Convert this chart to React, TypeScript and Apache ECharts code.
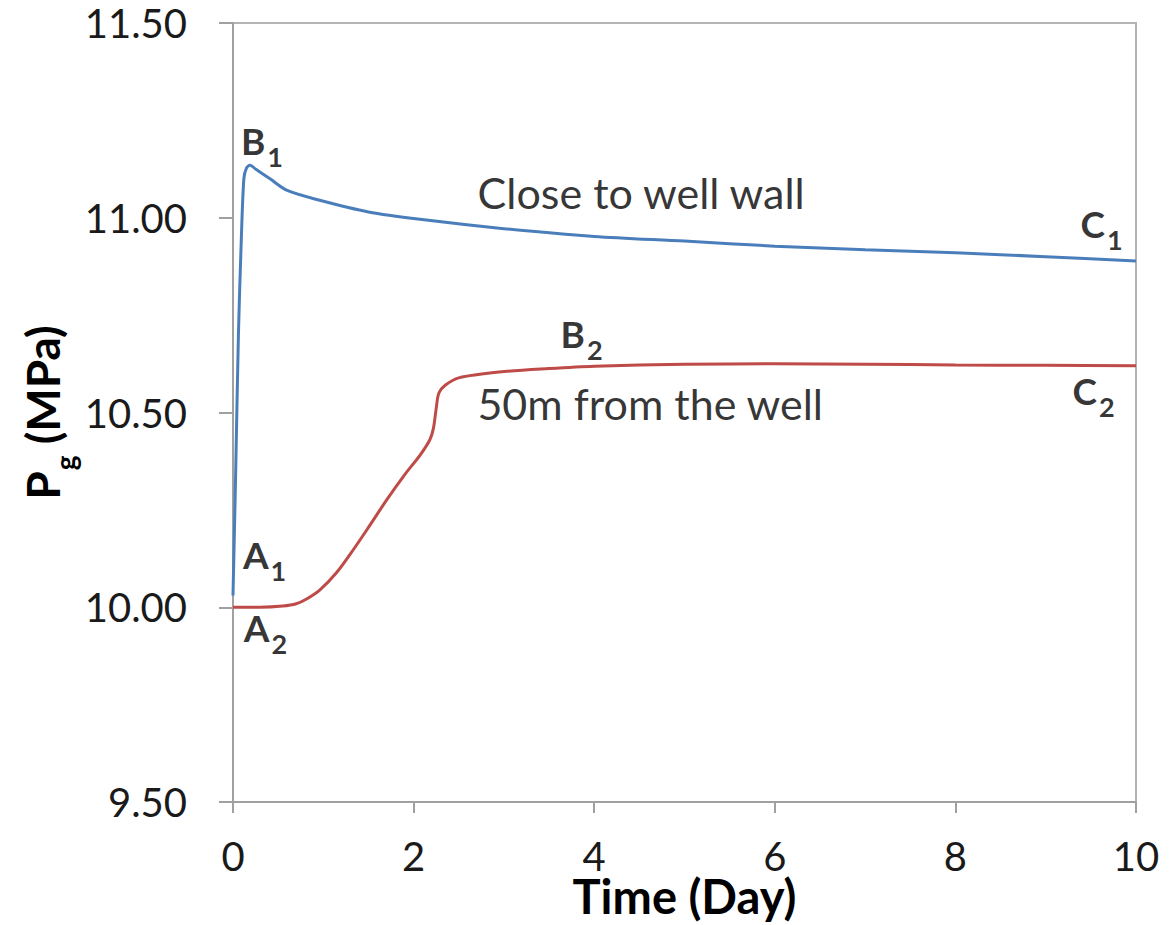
import React, { useEffect, useRef } from "react";
import * as echarts from "echarts";

// Close to well wall (blue)
const blueDays = [0, 0.03, 0.06, 0.09, 0.12, 0.15, 0.19, 0.25, 0.41, 0.6, 0.96, 1.5, 2.07, 3, 4, 5, 6, 7, 8, 9, 10];
const blueP = [10.03, 10.35, 10.7, 10.93, 11.1, 11.128, 11.135, 11.125, 11.1, 11.07, 11.045, 11.015, 10.996, 10.972, 10.952, 10.94, 10.927, 10.918, 10.91, 10.9, 10.889];

// 50m from the well (red)
const redDays = [0, 0.3, 0.55, 0.7, 0.82, 0.96, 1.15, 1.33, 1.5, 1.7, 1.9, 2.07, 2.18, 2.22, 2.25, 2.28, 2.35, 2.5, 2.95, 3.5, 4, 5, 6, 7, 8, 9, 10];
const redP = [10.0, 10.0, 10.003, 10.009, 10.022, 10.044, 10.09, 10.147, 10.205, 10.275, 10.34, 10.39, 10.43, 10.46, 10.51, 10.55, 10.57, 10.589, 10.604, 10.613, 10.619, 10.624, 10.625, 10.624, 10.622, 10.621, 10.62];

// Point labels (letter + subscript) positioned in data coordinates
const pointMain = ["B", "C", "B", "C", "A", "A"];
const pointSub = ["1", "1", "2", "2", "1", "2"];
const pointDay = [0.32, 9.62, 3.86, 9.53, 0.35, 0.36];
const pointP = [11.199, 10.984, 10.704, 10.557, 10.136, 9.949];

// Curve captions
const captionText = ["Close to well wall", "50m from the well"];
const captionDay = [4.52, 4.62];
const captionP = [11.064, 10.522];

const xTicks = { min: 0, max: 10, interval: 2 };
const yTicks = { min: 9.5, max: 11.5, interval: 0.5 };

const FONT = "Lato, 'Open Sans', sans-serif";

export default function App() {
  const ref = useRef<HTMLDivElement>(null);
  useEffect(() => {
    if (!ref.current) return;
    const chart = echarts.init(ref.current, undefined, { renderer: "svg" });
    const axisGray = "#a0a0a0";
    chart.setOption({
      animation: false,
      backgroundColor: "#ffffff",
      grid: {
        left: 233,
        right: 40,
        top: 23,
        bottom: 123,
        show: true,
        borderColor: "#b4b4b4",
        borderWidth: 2,
        containLabel: false,
        outerBoundsMode: "none",
      },
      xAxis: {
        type: "value",
        min: xTicks.min,
        max: xTicks.max,
        interval: xTicks.interval,
        axisLine: { show: true, lineStyle: { color: axisGray, width: 2 } },
        axisTick: { show: true, length: 11, lineStyle: { color: axisGray, width: 2 } },
        splitLine: { show: false },
        axisLabel: { fontSize: 40, lineHeight: 32, fontFamily: FONT, color: "#1a1a1a", margin: 38 },
        name: "Time (Day)",
        nameLocation: "middle",
        nameGap: 76,
        nameMoveOverlap: false,
        nameTextStyle: { fontSize: 47, fontWeight: "bold", fontFamily: FONT, color: "#000", lineHeight: 36 },
      },
      yAxis: {
        type: "value",
        min: yTicks.min,
        max: yTicks.max,
        interval: yTicks.interval,
        axisLine: { show: true, lineStyle: { color: axisGray, width: 2 } },
        axisTick: { show: true, length: 14, lineStyle: { color: axisGray, width: 2 } },
        splitLine: { show: false },
        axisLabel: {
          fontSize: 40,
          fontFamily: FONT,
          color: "#1a1a1a",
          margin: 46,
          formatter: (v: number) => v.toFixed(2),
        },
        name: "{p|P}{g|g}{p| (MPa)}",
        nameLocation: "middle",
        nameRotate: 90,
        nameGap: 168,
        nameMoveOverlap: false,
        nameTextStyle: {
          rich: {
            p: { fontSize: 46, fontWeight: "bold", fontFamily: FONT, color: "#000", lineHeight: 46, verticalAlign: "top" },
            g: { fontSize: 28, fontWeight: "bold", fontFamily: FONT, color: "#000", lineHeight: 28, verticalAlign: "top", padding: [32, 0, 0, 1] },
          },
        },
      },
      series: [
        {
          type: "line",
          data: blueDays.map((d, i) => [d, blueP[i]]),
          showSymbol: false,
          smooth: 0.3,
          lineStyle: { color: "#4a7ebb", width: 3 },
          itemStyle: { color: "#4a7ebb" },
          silent: true,
        },
        {
          type: "line",
          data: redDays.map((d, i) => [d, redP[i]]),
          showSymbol: false,
          smooth: 0.3,
          lineStyle: { color: "#be4b48", width: 3 },
          itemStyle: { color: "#be4b48" },
          silent: true,
        },
        {
          type: "scatter",
          symbolSize: 0,
          silent: true,
          data: pointMain.map((m, i) => ({ value: [pointDay[i], pointP[i]], name: m + "|" + pointSub[i] })),
          label: {
            show: true,
            position: "inside",
            formatter: (p: any) => {
              const [m, s] = String(p.name).split("|");
              return "{m|" + m + "}{s|" + s + "}";
            },
            rich: {
              m: { fontSize: 37, fontWeight: "bold", fontFamily: FONT, color: "#000", lineHeight: 37, verticalAlign: "top" },
              s: { fontSize: 27, fontWeight: "bold", fontFamily: FONT, color: "#000", lineHeight: 27, verticalAlign: "top", padding: [21, 0, 0, 2] },
            },
          },
        },
        {
          type: "scatter",
          symbolSize: 0,
          silent: true,
          data: captionText.map((t, i) => ({ value: [captionDay[i], captionP[i]], name: t })),
          label: {
            show: true,
            position: "inside",
            formatter: (p: any) => p.name,
            fontSize: 43,
            fontFamily: FONT,
            color: "#000",
          },
        },
      ],
    });
    return () => chart.dispose();
  }, []);
  return (
    <div
      ref={ref}
      style={{ position: "fixed", left: 0, top: 0, width: 1176, height: 925, background: "#fff" }}
    />
  );
}
